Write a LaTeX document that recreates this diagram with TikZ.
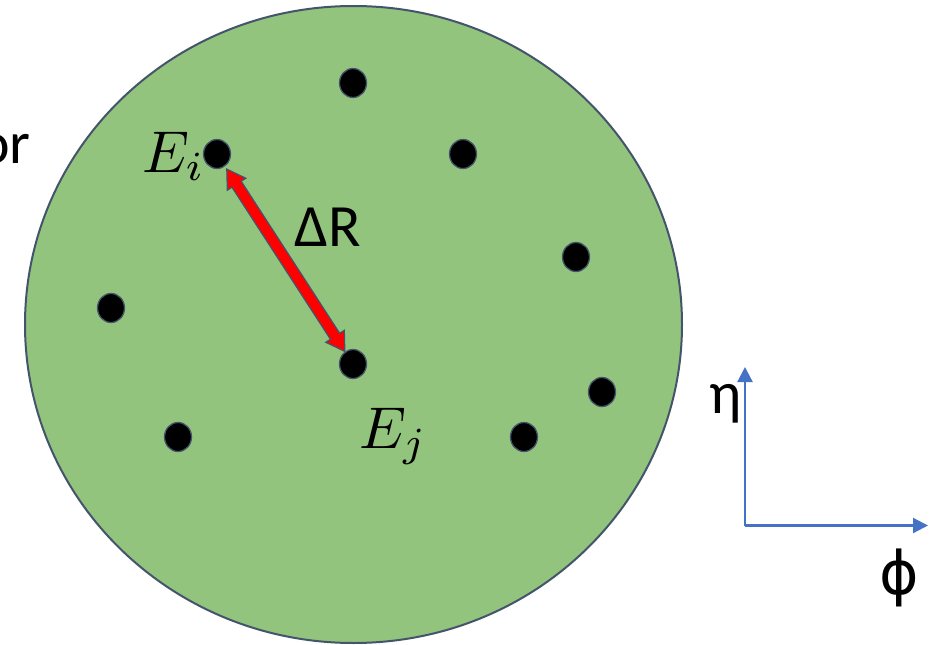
\documentclass[tikz,border=0pt]{standalone}
\usepackage{fontspec}
\setmainfont{Carlito}
\newfontfamily\phifont{DejaVu Sans}
\usetikzlibrary{calc,arrows.meta,shapes.geometric}
\definecolor{detgreen}{RGB}{147,196,125}
\definecolor{slate}{RGB}{68,84,106}
\definecolor{axisblue}{RGB}{68,114,196}
\begin{document}
\begin{tikzpicture}[x=1pt,y=-1pt,
  dot/.style={ellipse,fill=black,draw=slate,line width=1.3pt,minimum width=27pt,minimum height=29pt,inner sep=0pt},
  lbl/.style={font=\fontsize{60}{72}\selectfont,inner sep=0pt,anchor=base west},
  mathlbl/.style={scale=5.9,inner sep=0pt,anchor=base west},
  axisline/.style={draw=axisblue,line width=2.2pt,-{Triangle[length=15pt,width=15pt]}}]
\useasboundingbox (0,0) rectangle (930,645);
\fill[white] (0,0) rectangle (930,645);
% detector disc
\draw[fill=detgreen,draw=slate,line width=2pt] (353.5,324.5) ellipse [x radius=328.5, y radius=318.5];
% partially visible label at left edge
\node[font=\fontsize{60}{72}\selectfont,inner sep=0pt,anchor=base east] (or) at (31,163) {or};
% dots
\node[dot] (d1) at (353,83) {};
\node[dot] (ei) at (217,154) {};
\node[dot] (d2) at (463,154) {};
\node[dot] (d3) at (576,257) {};
\node[dot] (d4) at (111,308) {};
\node[dot] (ej) at (353,364) {};
\node[dot] (d5) at (602,392) {};
\node[dot] (d6) at (178,437) {};
\node[dot] (d7) at (524,437) {};
% labels
\node[mathlbl] (lei) at (141,172) {$E_i$};
\node[mathlbl] (lej) at (358,448) {$E_j$};
\node[lbl] (dr) at (294,246) {ΔR};
% Delta R arrow
\coordinate (A) at ($(ei.center)!18pt!(ej.center)$);
\coordinate (B) at ($(ej.center)!15pt!(ei.center)$);
\coordinate (A1) at ($(A)!18pt!(B)$);
\coordinate (B1) at ($(B)!18pt!(A)$);
\draw[fill=red,draw=slate,line width=1.2pt,line join=miter]
  (A) -- ($(A1)!11pt!90:(B)$) -- ($(A1)!5.5pt!90:(B)$)
  -- ($(B1)!5.5pt!-90:(A)$) -- ($(B1)!11pt!-90:(A)$) -- (B)
  -- ($(B1)!11pt!90:(A)$) -- ($(B1)!5.5pt!90:(A)$)
  -- ($(A1)!5.5pt!-90:(B)$) -- ($(A1)!11pt!-90:(B)$) -- cycle;
% axes
\coordinate (o) at (745,525.5);
\coordinate (ytip) at (745,367);
\coordinate (xtip) at (928,525.5);
\draw[axisline] (o) -- (ytip);
\draw[axisline] (o) -- (xtip);
\node[lbl] (eta) at (709,413) {η};
\node[lbl,font=\phifont\fontsize{60}{72}\selectfont] (phi) at (879,594) {ϕ};
\end{tikzpicture}
\end{document}
